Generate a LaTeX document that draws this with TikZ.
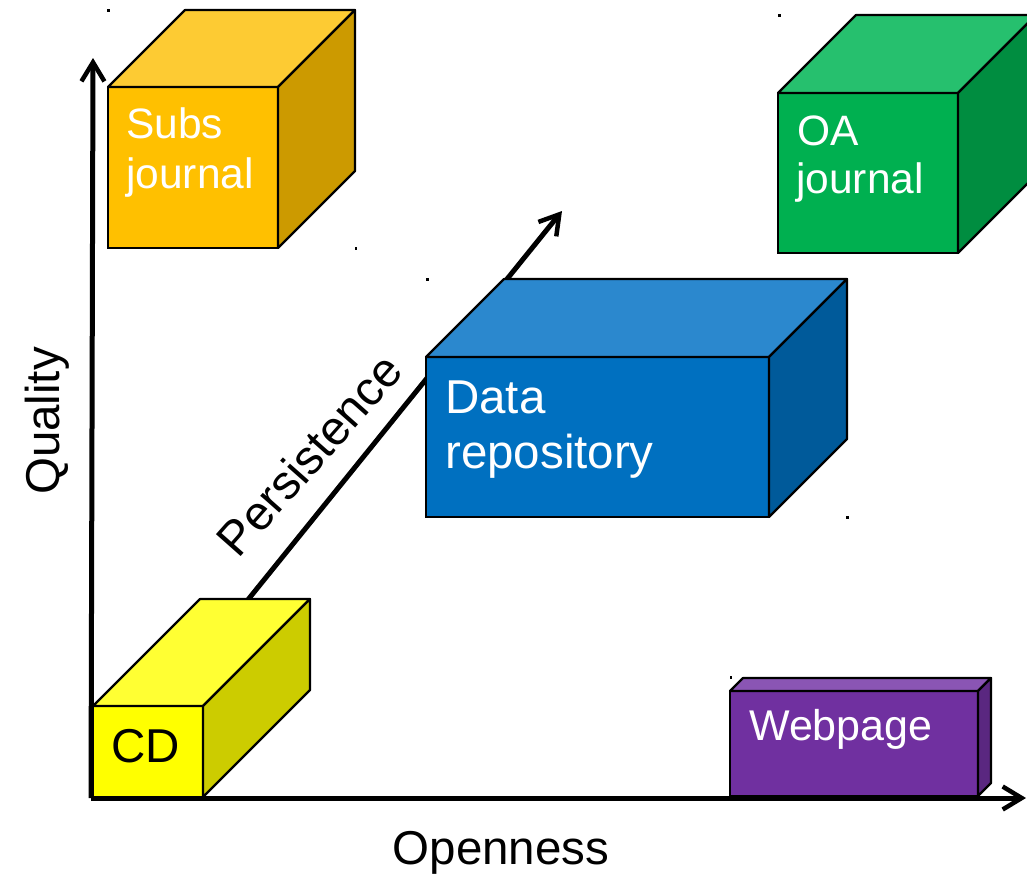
\documentclass[tikz,border=0pt]{standalone}
\usepackage{fontspec}
\setmainfont{Liberation Sans}
\usetikzlibrary{arrows.meta,calc}
\definecolor{subsF}{HTML}{FFC000}
\definecolor{subsT}{HTML}{FDCB33}
\definecolor{subsS}{HTML}{CC9A00}
\definecolor{oaF}{HTML}{00B050}
\definecolor{oaT}{HTML}{26C06E}
\definecolor{oaS}{HTML}{008D40}
\definecolor{dataF}{HTML}{0070C0}
\definecolor{dataT}{HTML}{2B88CE}
\definecolor{dataS}{HTML}{005A9A}
\definecolor{cdF}{HTML}{FFFF00}
\definecolor{cdT}{HTML}{FFFF33}
\definecolor{cdS}{HTML}{CCCC00}
\definecolor{webF}{HTML}{7030A0}
\definecolor{webT}{HTML}{8A55B4}
\definecolor{webS}{HTML}{5A2780}
\newcommand\cubefaces[4]{%
  \filldraw[face, fill=#3] (#1.north west) -- ++(#2,-#2) -- ($(#1.north east)+(#2,-#2)$) -- (#1.north east) -- cycle;
  \filldraw[face, fill=#4] (#1.north east) -- ++(#2,-#2) -- ($(#1.south east)+(#2,-#2)$) -- (#1.south east) -- cycle;
}
\begin{document}
\begin{tikzpicture}[x=1pt,y=-1pt,
  face/.style={draw=black, line width=2.2pt, line join=round},
  frontbox/.style={draw=black, line width=2.2pt, rectangle, inner sep=0pt, outer sep=0pt},
  axisline/.style={line width=5pt, -{Straight Barb[length=19pt,width=23pt,line width=4.5pt]}},
  lbl/.style={anchor=base west, inner sep=0pt, text=white},
  big/.style={font=\fontsize{47.5}{55}\selectfont},
  mid/.style={font=\fontsize{42.5}{50}\selectfont},
  dot/.style={fill=black}]
\useasboundingbox (0,0) rectangle (1027,879);
\clip (0,0) rectangle (1027,879);
\fill[white] (0,0) rectangle (1027,879);

% persistence arrow (behind the boxes)
\coordinate (pS) at (234,617);
\coordinate (pE) at (562,211);
\draw[axisline] (pS) -- (pE);

% Subs journal
\node[frontbox, fill=subsF, minimum width=170pt, minimum height=161pt] (subs) at (193,167.5) {};
\cubefaces{subs}{77}{subsT}{subsS}
% OA journal
\node[frontbox, fill=oaF, minimum width=180pt, minimum height=160pt] (oa) at (868,173) {};
\cubefaces{oa}{78}{oaT}{oaS}
% Data repository
\node[frontbox, fill=dataF, minimum width=343pt, minimum height=160pt] (data) at (597.5,437) {};
\cubefaces{data}{78}{dataT}{dataS}
% Webpage
\node[frontbox, fill=webF, minimum width=248pt, minimum height=105pt] (web) at (854,743.5) {};
\cubefaces{web}{13}{webT}{webS}
% CD
\node[frontbox, fill=cdF, minimum width=110pt, minimum height=91pt] (cd) at (148,751.5) {};
\cubefaces{cd}{107}{cdT}{cdS}

% box labels
\node[lbl, mid] (subsA) at (126,138) {Subs};
\node[lbl, mid] (subsB) at (126,188) {journal};
\node[lbl, mid] (oaA) at (797,145) {OA};
\node[lbl, mid] (oaB) at (796,193) {journal};
\node[lbl, big] (dataA) at (445,413) {Data};
\node[lbl, big] (dataB) at (445,468) {repository};
\node[lbl, font=\fontsize{43}{50}\selectfont] (webA) at (749,740) {Webpage};
\node[lbl, font=\fontsize{47.5}{54}\selectfont, text=black] (cdA) at (111,762) {CD};

% axes
\coordinate (origin) at (93,798);
\coordinate (yEnd) at (93,58);
\coordinate (xEnd) at (1026,798);
\draw[axisline] (91,798) -- (yEnd);
\draw[axisline] (91,798) -- (xEnd);

% axis labels
\node[big, anchor=base, inner sep=0pt, rotate=90] (quality) at (59,421) {Quality};
\node[big, anchor=base, inner sep=0pt] (openness) at (501,864) {Openness};
\node[font=\fontsize{48}{54}\selectfont, anchor=base, inner sep=0pt, rotate=48.5] (persist) at (322,466) {Persistence};

% tiny marks
\fill[dot] (107,9) rectangle (109.5,11.5);
\fill[dot] (778,14) rectangle (780.5,16.5);
\fill[dot] (354.5,247) rectangle (357,249.5);
\fill[dot] (426,278) rectangle (428.5,280.5);
\fill[dot] (846,516) rectangle (848.5,518.5);
\fill[dot] (729.5,676) rectangle (732,678.5);
\end{tikzpicture}
\end{document}
